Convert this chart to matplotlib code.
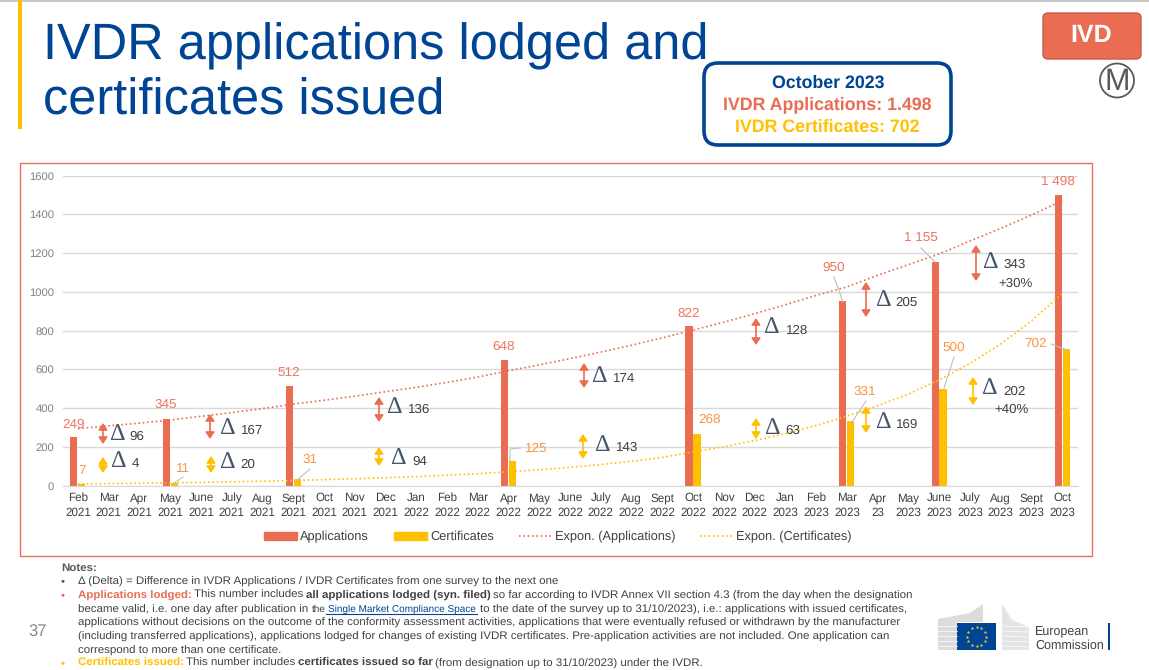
#!/usr/bin/env python3
"""IVDR applications lodged and certificates issued (slide recreation)."""

import matplotlib
matplotlib.use("Agg")
import matplotlib.pyplot as plt
import numpy as np
from matplotlib.lines import Line2D
from matplotlib.patches import Circle, FancyBboxPatch, Patch, Polygon, Rectangle

W, H = 1149, 670

months = ["Feb\n2021", "Mar\n2021", "Apr\n2021", "May\n2021", "June\n2021", "July\n2021", "Aug\n2021",
          "Sept\n2021", "Oct\n2021", "Nov\n2021", "Dec\n2021", "Jan\n2022", "Feb\n2022", "Mar\n2022",
          "Apr\n2022", "May\n2022", "June\n2022", "July\n2022", "Aug\n2022", "Sept\n2022", "Oct\n2022",
          "Nov\n2022", "Dec\n2022", "Jan\n2023", "Feb\n2023", "Mar\n2023", "Apr\n23", "May\n2023",
          "June\n2023", "July\n2023", "Aug\n2023", "Sept\n2023", "Oct\n2023"]

# surveys: month index, applications, certificates
survey_idx = [0, 3, 7, 14, 20, 25, 28, 32]
applications = [249, 345, 512, 648, 822, 950, 1155, 1498]
certificates = [7, 11, 31, 125, 268, 331, 500, 702]

# trend lines, one value per month
trend_apps = [293, 308, 322, 338, 357, 376, 397, 420, 440, 461, 484, 507, 532, 560, 592, 623, 655,
              689, 724, 762, 802, 843, 887, 933, 981, 1025, 1085, 1140, 1195, 1262, 1327, 1396, 1470]
trend_certs = [8, 10, 12, 14, 16, 19, 22, 26, 30, 35, 40, 46, 53, 61, 71, 81, 94, 108, 125, 145,
               173, 200, 232, 268, 310, 358, 412, 472, 545, 630, 730, 850, 990]

yticks = [0, 200, 400, 600, 800, 1000, 1200, 1400, 1600]

# delta annotations, positions in slide pixels
delta_labels = ["96", "4", "167", "20", "136", "94", "174", "143", "128", "63", "205", "169", "343", "202"]
delta_kinds = ["a", "c", "a", "c", "a", "c", "a", "c", "a", "c", "a", "c", "a", "c"]
delta_arrow_x = [103, 103, 210, 211, 379, 379, 584, 583, 756, 756, 866, 866, 976, 973]
delta_arrow_top = [423, 457, 414, 456, 397, 447, 363, 434, 318, 418, 282, 406, 245, 377]
delta_arrow_bot = [444, 473, 439, 473, 422, 466, 388, 459, 345, 439, 317, 433, 281, 405]
delta_sym_x = [117, 118, 227, 227, 394, 398, 599, 602, 771, 772, 883, 883, 990, 989]
delta_sym_y = [434, 461, 428, 462, 407, 458, 376, 445, 327, 428, 300, 422, 262, 388]
delta_txt_x = [129, 132, 241, 240, 408, 412, 613, 616, 786, 785, 895, 896, 1003, 1003]
delta_txt_y = [437, 464, 431, 465, 410, 462, 379, 448, 331, 431, 303, 425, 265, 392]

# data label positions and leader lines, slide pixels
app_txt = ["249", "345", "512", "648", "822", "950", "1 155", "1 498"]
app_lbl_xy = [(74, 425), (166, 405), (289, 373), (504, 347), (689, 314), (834, 268), (921, 239), (1058, 182)]
cert_lbl_xy = [(82, 471), (183, 469), (310, 460), (536, 449), (710, 420), (865, 392), (954, 348), (1036, 344)]
leaders_x = [[173, 183], [296, 310], [510, 510, 520], [852, 866], [944, 954], [1051, 1067], [921, 935], [834, 843]]
leaders_y = [[484, 477], [481, 469], [461, 449, 448], [422, 401], [388, 357], [344, 350], [248, 262], [277, 302]]

RED = "#E96C53"
YEL = "#FFC000"
BLUE = "#004494"
LBL_RED = "#EE7560"
LBL_ORG = "#F79646"
GREY = "#595959"
TXT = "#404040"

plt.rcParams["font.family"] = ["Liberation Sans", "DejaVu Sans"]
plt.rcParams["text.hinting"] = "none"
fig = plt.figure(figsize=(W / 100, H / 100), dpi=100)

# chart axes, 33 monthly categories
ax = fig.add_axes([62.6 / W, 1 - 485.5 / H, (1077.6 - 62.6) / W, 310 / H])
x = np.arange(len(months))
ax.bar(np.array(survey_idx) - 0.135, applications, width=0.23, color=RED, zorder=2)
ax.bar(np.array(survey_idx) + 0.125, certificates, width=0.23, color=YEL, zorder=2)
ax.plot(x, trend_apps, color=RED, lw=1.2, ls=(0, (1, 1.6)), zorder=3)
ax.plot(x, trend_certs, color=YEL, lw=1.2, ls=(0, (1, 1.6)), zorder=3)
ax.set_xlim(-0.5, 32.5)
ax.set_ylim(0, 1600)
ax.set_xticks(x)
ax.set_xticklabels(months, fontsize=8.4, color=TXT, linespacing=1.35)
ax.set_yticks(yticks)
ax.set_yticklabels([str(v) for v in yticks], fontsize=8.1, color="#808080")
ax.tick_params(length=0)
ax.tick_params(axis="x", pad=5)
ax.tick_params(axis="y", pad=6)
ax.grid(axis="y", color="#D9D9D9", lw=1)
ax.set_axisbelow(True)
for side in ("top", "right", "left"):
    ax.spines[side].set_visible(False)
ax.spines["bottom"].set_color("#D9D9D9")

handles = [Patch(color=RED, label="Applications"), Patch(color=YEL, label="Certificates"),
           Line2D([], [], color=RED, lw=1.2, ls=(0, (1, 1.6)), label="Expon. (Applications)"),
           Line2D([], [], color=YEL, lw=1.2, ls=(0, (1, 1.6)), label="Expon. (Certificates)")]
ax.legend(handles=handles, ncol=4, frameon=False, fontsize=9.2, loc="center",
          bbox_to_anchor=((558 - 62.6) / 1015, (485 - 536.5) / 310), handlelength=2.58,
          handleheight=0.55, handletextpad=0.25, columnspacing=1.95, labelcolor=TXT)

# pixel overlay for the slide furniture and annotations
ov = fig.add_axes([0, 0, 1, 1], zorder=5)
ov.set_xlim(0, W)
ov.set_ylim(H, 0)
ov.axis("off")
ov.patch.set_alpha(0)

ov.add_patch(Rectangle((0, 0), W, 1.5, color="#C8C8C8", lw=0))
ov.add_patch(Rectangle((18, 0), 3.5, 129, color=YEL, lw=0))
ov.text(43, 46.5, "IVDR applications lodged and", fontsize=36.4, color=BLUE, va="center")
ov.text(43, 101.5, "certificates issued", fontsize=36.4, color=BLUE, va="center")

# chart frame
ov.add_patch(Rectangle((19.5, 162.5), 1072, 393, fill=False, ec=RED, lw=1))

# summary box
ov.add_patch(FancyBboxPatch((712, 71), 231, 66, boxstyle="round,pad=8,rounding_size=14",
                            fc="white", ec=BLUE, lw=2.6, zorder=6))
ov.text(828, 83.5, "October 2023", fontsize=12.8, fontweight="bold", color=BLUE, ha="center", va="center", zorder=7)
ov.text(827, 105, "IVDR Applications: 1.498", fontsize=12.8, fontweight="bold", color=RED, ha="center", va="center", zorder=7)
ov.text(827, 127, "IVDR Certificates: 702", fontsize=12.8, fontweight="bold", color=YEL, ha="center", va="center", zorder=7)

# IVD badge and M mark
ov.add_patch(FancyBboxPatch((1045, 15), 94, 42, boxstyle="round,pad=2,rounding_size=5",
                            fc=RED, ec="#C75B46", lw=1))
ov.text(1091.5, 36, "IVD", fontsize=18, fontweight="bold", color="white", ha="center", va="center")
ov.add_patch(Circle((1117, 80.5), 17, fill=False, ec="#595959", lw=1.3))
ov.text(1117, 81.5, "M", fontsize=22, color="#595959", ha="center", va="center")

# data labels and leader lines
for (px, py), s in zip(app_lbl_xy, app_txt):
    ov.text(px, py, s, fontsize=9.7, color=LBL_RED, ha="center", va="center")
for (px, py), v in zip(cert_lbl_xy, certificates):
    ov.text(px, py, str(v), fontsize=9.7, color=LBL_ORG, ha="center", va="center")
for lx, ly in zip(leaders_x, leaders_y):
    ov.plot(lx, ly, color="#BFBFBF", lw=0.8)

# delta arrows
for i, s in enumerate(delta_labels):
    col = RED if delta_kinds[i] == "a" else YEL
    xa, top, bot = delta_arrow_x[i], delta_arrow_top[i], delta_arrow_bot[i]
    ov.annotate("", xy=(xa, top), xytext=(xa, bot),
                arrowprops=dict(arrowstyle="<|-|>,head_length=0.36,head_width=0.24", color=col, lw=1.2,
                                mutation_scale=11, shrinkA=0, shrinkB=0))
    ov.text(delta_sym_x[i], delta_sym_y[i], "\u0394", fontsize=17.5, color="#44546A",
            ha="center", va="center", family="Liberation Serif")
    ov.text(delta_txt_x[i], delta_txt_y[i], s, fontsize=9.6, color=TXT, ha="left", va="center")
ov.text(998, 284, "+30%", fontsize=9.5, color=TXT, va="center")
ov.text(994, 410, "+40%", fontsize=9.5, color=TXT, va="center")


def text_runs(x0, y, runs, gap=2.3):
    # notes lines mix weights, so lay the pieces out one after the other
    rend = fig.canvas.get_renderer()
    for s, weight, col, size in runs:
        t = ov.text(x0, y, s, fontsize=size, fontweight=weight, color=col, va="center")
        bb = t.get_window_extent(rend)
        x0 = bb.x1 + gap


# notes
fs = 8.27
ov.text(61, 568, "Notes:", fontsize=fs, fontweight="bold", color=GREY, va="center")
for by, col in [(581.5, GREY), (595.5, RED), (663.5, YEL)]:
    ov.text(63, by, "\u2022", fontsize=fs, color=col, va="center", ha="center")
ov.text(78, 581.5, "\u0394 (Delta) = Difference in IVDR Applications / IVDR Certificates from one survey to the next one",
        fontsize=fs, color=TXT, va="center")
text_runs(78, 595.5, [("Applications lodged:", "bold", RED, fs),
                      ("This number includes", "normal", TXT, fs),
                      ("all applications lodged (syn. filed)", "bold", TXT, fs),
                      ("so far according to IVDR Annex VII section 4.3 (from the day when the designation", "normal", TXT, fs)])
text_runs(78, 609.5, [("became valid, i.e. one day after publication in", "normal", TXT, fs),
                      ("the", "normal", TXT, 7.2),
                      ("Single Market Compliance Space", "normal", BLUE, 7.2),
                      ("to the date of the survey up to 31/10/2023), i.e.: applications with issued certificates,", "normal", TXT, fs)],
          gap=3.2)
ov.plot([326, 477], [613.5, 613.5], color=BLUE, lw=0.8)
ov.text(78, 623, "applications without decisions on the outcome of the conformity assessment activities, applications that were eventually refused or withdrawn by the manufacturer",
        fontsize=fs, color=TXT, va="center")
ov.text(78, 636.5, "(including transferred applications), applications lodged for changes of existing IVDR certificates. Pre-application activities are not included. One application can",
        fontsize=fs, color=TXT, va="center")
ov.text(78, 650.5, "correspond to more than one certificate.", fontsize=fs, color=TXT, va="center")
text_runs(78, 663.5, [("Certificates issued:", "bold", YEL, fs),
                      ("This number includes", "normal", TXT, fs),
                      ("certificates issued so far", "bold", TXT, fs),
                      ("(from designation up to 31/10/2023) under the IVDR.", "normal", TXT, fs)])
ov.text(38, 632, "37", fontsize=12, color="#8C8C8C", ha="center", va="center")

# European Commission logo
ov.add_patch(Polygon([(938, 650), (938, 619), (970, 613), (983, 604), (983, 622), (957, 622), (957, 650)],
                     color="#DCDCDC", lw=0))
ov.add_patch(Polygon([(1002, 604), (1012, 620), (1029, 627), (1029, 650), (1002, 650)], color="#E4E4E4", lw=0))
for sy in [626, 631, 636, 641, 646]:
    ov.plot([938, 957], [sy, sy], color="white", lw=0.5)
    ov.plot([1002, 1029], [sy, sy + 1], color="white", lw=0.5)
ov.add_patch(Rectangle((957, 622.5), 39, 27.5, color=BLUE, lw=0))
angles = np.arange(12) * np.pi / 6
ov.scatter(976.5 + 9.5 * np.cos(angles), 636.5 + 9.5 * np.sin(angles), s=7, color="#FFD617", marker="*", lw=0)
ov.text(1035, 632, "European", fontsize=9, color="#404040", va="center")
ov.text(1035, 646, "Commission", fontsize=9, color="#404040", va="center")
ov.add_patch(Rectangle((1108, 622.5), 2, 27.5, color=BLUE, lw=0))

fig.savefig("out.png", dpi=100)
